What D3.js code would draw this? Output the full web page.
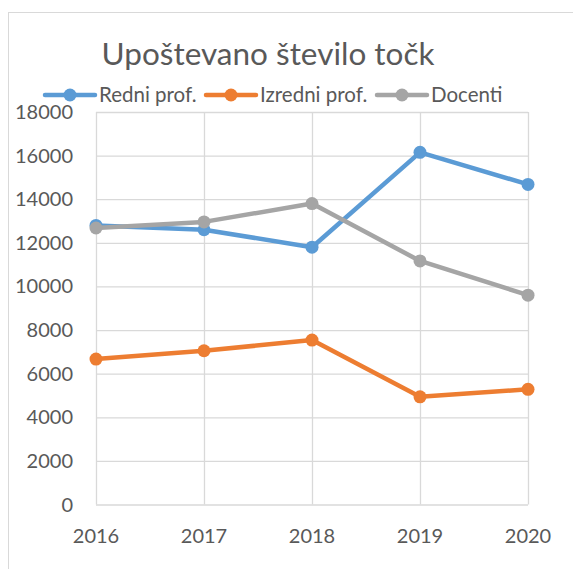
<!DOCTYPE html>
<meta charset="utf-8">
<html>
<head>
	<script src="https://d3js.org/d3.v7.min.js"></script>
	<style>
		body { margin: 0; background: #fff; }
		text { font-family: Lato, "Open Sans", sans-serif; fill: #595959; }
	</style>
</head>
<body>
	<svg id="chart"></svg>
	<script>
		var years = ["2016", "2017", "2018", "2019", "2020"];
		var redni = [12800, 12600, 11800, 16150, 14680];
		var izredni = [6670, 7050, 7540, 4940, 5280];
		var docenti = [12680, 12960, 13800, 11170, 9600];
		var seriesNames = ["Redni prof.", "Izredni prof.", "Docenti"];
		var seriesColors = ["#5B9BD5", "#ED7D31", "#A5A5A5"];
		var yTicks = [0, 2000, 4000, 6000, 8000, 10000, 12000, 14000, 16000, 18000];

		var svgWidth = 573, svgHeight = 569;
		var margin = {top: 112, right: 45, bottom: 65, left: 96};
		var graphWidth = 528 - margin.left,
			graphHeight = 504.5 - margin.top;

		var svg = d3.select("#chart")
			.attr("width", svgWidth)
			.attr("height", svgHeight);

		// chart frame (cut off on the right and bottom)
		svg.append("rect")
			.attr("x", 8.5).attr("y", 12.5)
			.attr("width", 600).attr("height", 600)
			.attr("fill", "none")
			.attr("stroke", "#D9D9D9");

		var x = d3.scalePoint()
			.domain(years)
			.range([0, graphWidth]);

		var y = d3.scaleLinear()
			.domain([0, 18000])
			.range([graphHeight, 0]);

		var g = svg.append("g")
			.attr("transform", "translate(" + margin.left + "," + margin.top + ")");

		// gridlines
		g.append("g")
			.call(d3.axisLeft(y).tickValues(yTicks).tickSize(-graphWidth).tickFormat(""))
			.call(function(s) { s.select(".domain").remove(); })
			.selectAll("line").attr("stroke", "#D9D9D9").attr("stroke-width", 1.3);

		g.append("g")
			.attr("transform", "translate(0," + graphHeight + ")")
			.call(d3.axisBottom(x).tickSize(-graphHeight).tickFormat(""))
			.call(function(s) { s.select(".domain").remove(); })
			.selectAll("line").attr("stroke", "#D9D9D9").attr("stroke-width", 1.3);

		// axis labels
		g.selectAll(".ylabel")
			.data(yTicks)
			.enter().append("text")
			.attr("class", "ylabel")
			.attr("x", -23)
			.attr("y", function(d) { return y(d) + 7; })
			.attr("text-anchor", "end")
			.style("font-size", "20px")
			.text(function(d) { return d; });

		g.selectAll(".xlabel")
			.data(years)
			.enter().append("text")
			.attr("class", "xlabel")
			.attr("x", function(d) { return x(d); })
			.attr("y", graphHeight + 38.5)
			.attr("text-anchor", "middle")
			.style("font-size", "20px")
			.text(function(d) { return d; });

		var line = d3.line()
			.x(function(d, i) { return x(years[i]); })
			.y(function(d) { return y(d); });

		var allSeries = [redni, izredni, docenti];
		allSeries.forEach(function(vals, k) {
			var s = g.append("g");
			s.append("path")
				.datum(vals)
				.attr("d", line)
				.attr("fill", "none")
				.attr("stroke", seriesColors[k])
				.attr("stroke-width", 4.5)
				.attr("stroke-linejoin", "round");
			s.selectAll("circle")
				.data(vals)
				.enter().append("circle")
				.attr("cx", function(d, i) { return x(years[i]); })
				.attr("cy", function(d) { return y(d); })
				.attr("r", 6.5)
				.attr("fill", seriesColors[k]);
		});

		// title
		svg.append("text")
			.attr("x", 268)
			.attr("y", 65)
			.attr("text-anchor", "middle")
			.style("font-size", "31.5px")
			.text("Upoštevano število točk");

		// legend
		var legendX = [45, 206, 377];
		var legend = svg.selectAll(".legend")
			.data(seriesNames)
			.enter().append("g")
			.attr("class", "legend")
			.attr("transform", function(d, i) { return "translate(" + legendX[i] + ",95)"; });
		legend.append("line")
			.attr("x1", 0).attr("x2", 50)
			.attr("stroke", function(d, i) { return seriesColors[i]; })
			.attr("stroke-width", 4.5)
			.attr("stroke-linecap", "round");
		legend.append("circle")
			.attr("cx", 25).attr("r", 6.5)
			.attr("fill", function(d, i) { return seriesColors[i]; });
		legend.append("text")
			.attr("x", 54).attr("y", 7)
			.style("font-size", "20.5px")
			.text(function(d) { return d; });
	</script>
</body>
</html>
